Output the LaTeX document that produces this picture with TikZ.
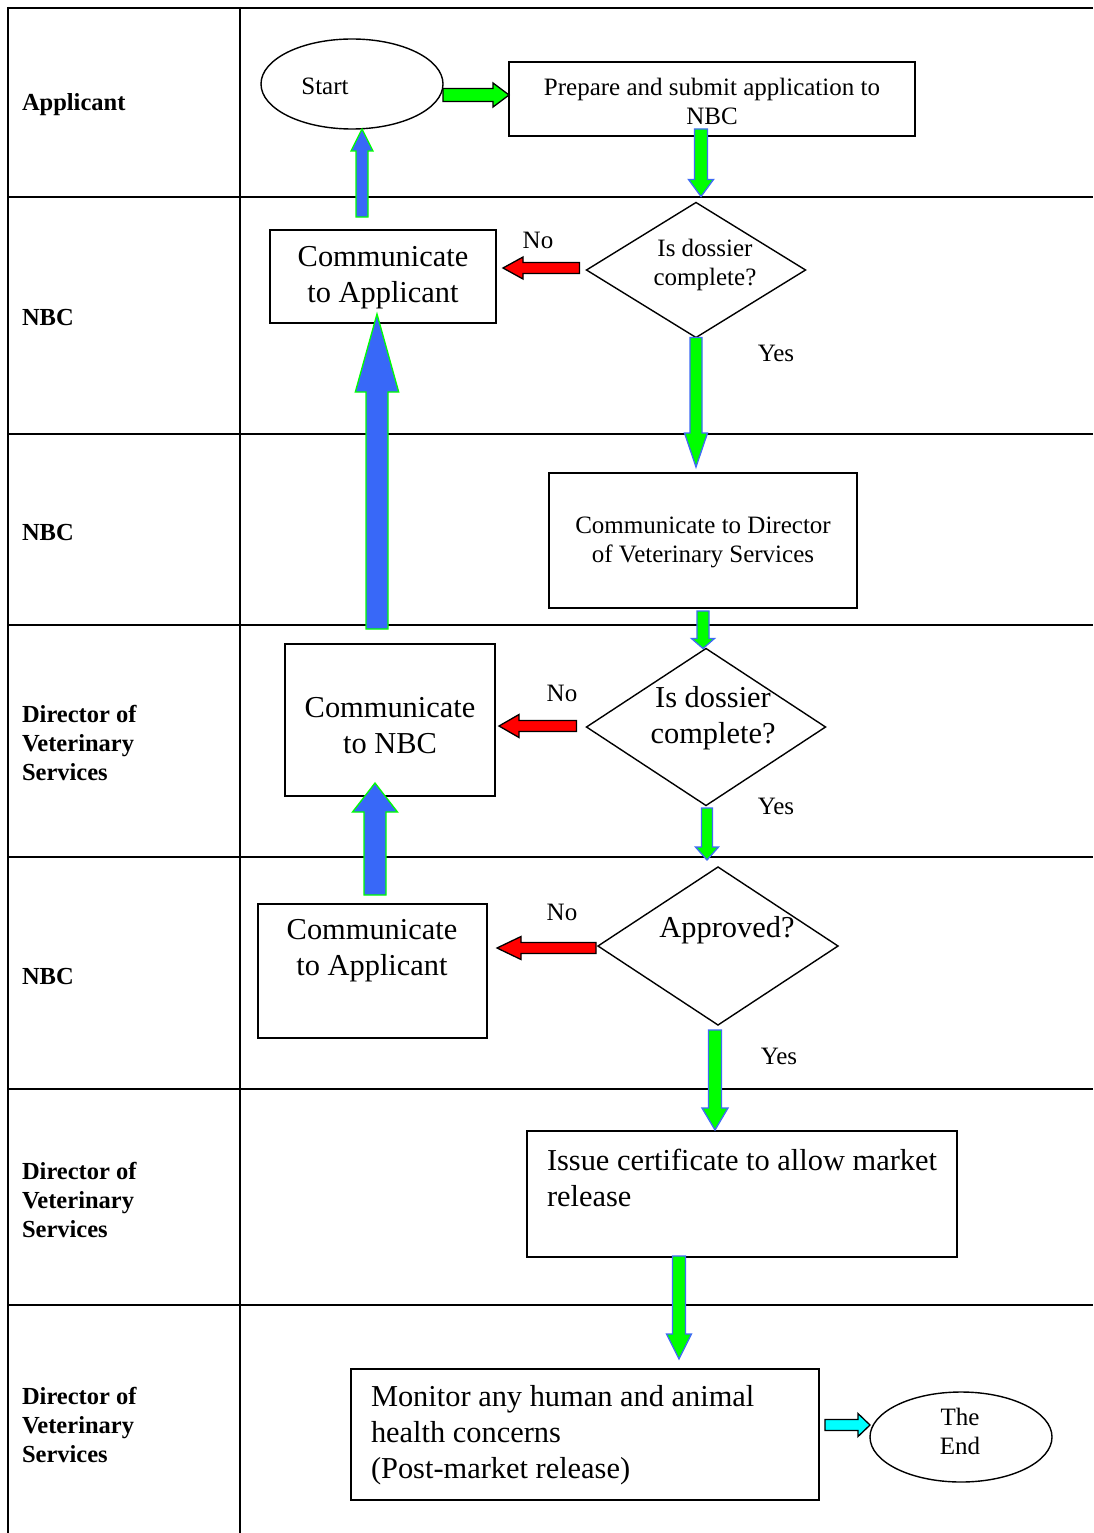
\documentclass[tikz,border=0pt]{standalone}
\usepackage{fontspec}
\setmainfont{Liberation Serif}
\usetikzlibrary{shapes.geometric,calc}
\definecolor{gfill}{HTML}{00FF00}
\definecolor{bline}{HTML}{3F6BF5}
\definecolor{bfill}{HTML}{3868F8}
\definecolor{cfill}{HTML}{00FFFF}
\definecolor{rfill}{HTML}{FF0000}
\newcommand\smallfs{\fontsize{25}{29}\selectfont}
\newcommand\largefs{\fontsize{30.4}{36}\selectfont}
\newcommand\lanefs{\fontsize{24.5}{29}\selectfont\bfseries}
% block arrow: [style]{from}{to}{half shaft}{half head}{head length}
\newcommand\blockarr[6][]{%
  \path (#2) coordinate (baA) (#3) coordinate (baB);
  \path ($(baB)!#6!(baA)$) coordinate (baN);
  \filldraw[#1] ($(baA)!#4!90:(baB)$) -- ($(baN)!#4!90:(baB)$) -- ($(baN)!#5!90:(baB)$)
     -- (baB) -- ($(baN)!#5!-90:(baB)$) -- ($(baN)!#4!-90:(baB)$) -- ($(baA)!#4!-90:(baB)$) -- cycle;
}
\begin{document}
\begin{tikzpicture}[x=1pt,y=-1pt,
  every node/.style={outer sep=0pt},
  box/.style={draw=black,line width=1.4pt,rectangle,inner sep=0pt},
  term/.style={draw=black,line width=1.4pt,ellipse,inner sep=0pt},
  dia/.style={draw=black,line width=1.4pt,diamond,inner sep=0pt},
  txt/.style={inner sep=0pt,align=center},
  ltxt/.style={inner sep=0pt,align=left,anchor=west},
  lane/.style={inner sep=0pt,align=left,anchor=west,font=\lanefs},
  tbl/.style={line width=1.5pt,black},
  garr/.style={fill=gfill,draw=bline,line width=1.3pt,line join=miter},
  gkarr/.style={fill=gfill,draw=black,line width=1.3pt},
  rarr/.style={fill=rfill,draw=black,line width=1.3pt},
  barr/.style={fill=bfill,draw=gfill,line width=1.3pt},
  carr/.style={fill=cfill,draw=black,line width=1.3pt}]
\useasboundingbox (0,0) rectangle (1093,1533);
\fill[white] (0,0) rectangle (1093,1533);
% table
\draw[line width=2.5pt] (8,8) -- (1093,8);
\draw[line width=2pt] (8,7) -- (8,1533);
\draw[line width=2pt] (240,7) -- (240,1533);
\foreach \yy in {197,434,625,857,1089,1305}
  \draw[tbl] (8,\yy) -- (1093,\yy);
% lane labels
\node[lane] (l1) at (22,105) {Applicant};
\node[lane] (l2) at (22,318) {NBC};
\node[lane] (l3) at (22,533) {NBC};
\node[lane] (l4) at (22,743) {Director of\\Veterinary\\Services};
\node[lane] (l5) at (22,976) {NBC};
\node[lane] (l6) at (22,1200) {Director of\\Veterinary\\Services};
\node[lane] (l7) at (22,1425) {Director of\\Veterinary\\Services};
% shapes
\node[term,minimum width=182pt,minimum height=90pt] (start) at (352,84) {};
\node[txt,font=\smallfs] (starttxt) at (325,86) {Start};
\node[box,minimum width=406pt,minimum height=74pt] (prep) at (712,99) {};
\node[txt,font=\smallfs] (preptxt) at (712,101) {Prepare and submit application to\\NBC};
\node[dia,minimum width=219pt,minimum height=135pt] (d1) at (696,270) {};
\node[txt,font=\smallfs] (d1txt) at (705,265) {Is dossier\\complete?};
\node[box,minimum width=226pt,minimum height=93pt] (comm1) at (383,276.5) {};
\node[txt,font=\largefs] (comm1txt) at (383,278) {Communicate\\to Applicant};
\node[box,minimum width=308pt,minimum height=135pt] (comm2) at (703,540.5) {};
\node[txt,font=\smallfs] (comm2txt) at (703,542) {Communicate to Director\\of Veterinary Services};
\node[dia,minimum width=239pt,minimum height=157pt] (d2) at (706,727) {};
\node[txt,font=\largefs] (d2txt) at (713,718) {Is dossier\\complete?};
\node[box,minimum width=210pt,minimum height=152pt] (comm3) at (390,720) {};
\node[txt,font=\largefs] (comm3txt) at (390,726) {Communicate\\to NBC};
\node[dia,minimum width=240pt,minimum height=158pt] (d3) at (718,946) {};
\node[txt,font=\largefs] (d3txt) at (727,930) {Approved?};
\node[box,minimum width=229pt,minimum height=134pt] (comm4) at (372.5,971) {};
\node[txt,font=\largefs] (comm4txt) at (372,951) {Communicate\\to Applicant};
\node[box,minimum width=430pt,minimum height=126pt] (issue) at (742,1194) {};
\node[ltxt,font=\largefs] (issuetxt) at (547,1178) {Issue certificate to allow market\\release};
\node[box,minimum width=468pt,minimum height=131pt] (monitor) at (585,1434.5) {};
\node[ltxt,font=\largefs] (montxt) at (371,1435) {Monitor any human and animal\\health concerns\\(Post-market release)};
\node[term,minimum width=182pt,minimum height=90pt] (end) at (961,1437) {};
\node[txt,font=\smallfs] (endtxt) at (960,1431) {The\\End};
% yes / no labels
\node[txt,font=\smallfs] (no1) at (538,240) {No};
\node[txt,font=\smallfs] (yes1) at (776,353) {Yes};
\node[txt,font=\smallfs] (no2) at (562,693) {No};
\node[txt,font=\smallfs] (yes2) at (776,806) {Yes};
\node[txt,font=\smallfs] (no3) at (562,912) {No};
\node[txt,font=\smallfs] (yes3) at (779,1056) {Yes};
% block arrows
\blockarr[gkarr]{[yshift=-11pt]start.east}{[yshift=4pt]prep.west}{6.5pt}{12pt}{16pt}
\blockarr[garr]{[xshift=-11pt,yshift=7pt]prep.south}{[xshift=5pt,yshift=6pt]d1.north}{6.5pt}{12.5pt}{17pt}
\blockarr[rarr]{[xshift=-7pt,yshift=2pt]d1.west}{[xshift=7pt,yshift=8.5pt]comm1.east}{5.5pt}{11pt}{20pt}
\blockarr[garr]{d1.south}{[xshift=-7pt,yshift=6pt]comm2.north}{6pt}{11.5pt}{34pt}
\blockarr[garr]{[yshift=-3pt]comm2.south}{[xshift=-3pt]d2.north}{6pt}{11.5pt}{10pt}
\blockarr[rarr]{[xshift=-10pt,yshift=1pt]d2.west}{[xshift=4pt,yshift=-6pt]comm3.east}{5.5pt}{11.5pt}{20pt}
\blockarr[garr]{[xshift=1pt,yshift=-2.5pt]d2.south}{[xshift=-11pt,yshift=7pt]d3.north}{5.5pt}{11.5pt}{13pt}
\blockarr[rarr]{[xshift=-2pt,yshift=-2pt]d3.west}{[xshift=10pt,yshift=23pt]comm4.east}{5.5pt}{11.5pt}{24pt}
\blockarr[barr]{[xshift=2.5pt,yshift=9pt]comm4.north}{[xshift=-15pt,yshift=13pt]comm3.south}{11pt}{22.5pt}{29pt}
\blockarr[barr]{[xshift=-13pt,yshift=15pt]comm3.north}{[xshift=-6pt,yshift=9pt]comm1.south}{11pt}{21.7pt}{78pt}
\blockarr[barr]{[xshift=-21pt,yshift=13pt]comm1.north}{[xshift=10pt]start.south}{6pt}{11pt}{22pt}
\blockarr[garr]{[xshift=-3pt,yshift=-5pt]d3.south}{[xshift=-27pt,yshift=1pt]issue.north}{6.5pt}{13pt}{22pt}
\blockarr[garr]{[xshift=-63pt,yshift=1pt]issue.south}{[xshift=94pt,yshift=10pt]monitor.north}{6.5pt}{12.5pt}{25pt}
\blockarr[carr]{[xshift=6pt,yshift=9.5pt]monitor.east}{[yshift=12pt]end.west}{5.5pt}{11.5pt}{12pt}
\end{tikzpicture}
\end{document}
